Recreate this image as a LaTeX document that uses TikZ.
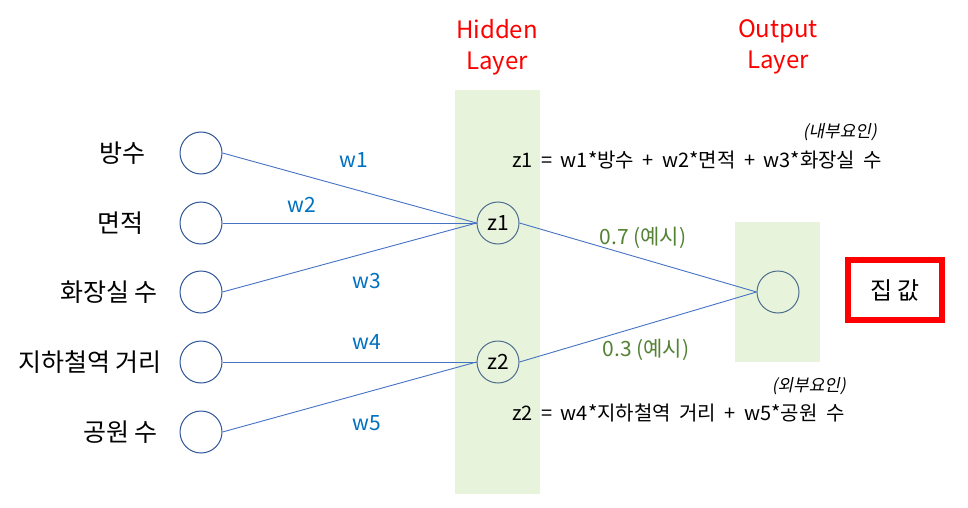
\documentclass[tikz,border=0pt]{standalone}
\usepackage{fontspec}
\setmainfont{Noto Sans CJK KR}
\newfontfamily\kslant[FakeSlant=0.2]{Noto Sans CJK KR}
\newcommand\widespacing{\spaceskip=8.5pt\relax}
\definecolor{band}{HTML}{E8F3DC}
\definecolor{edge}{HTML}{4472C4}
\definecolor{incirc}{HTML}{2F5597}
\definecolor{hidcirc}{HTML}{4E6E8E}
\definecolor{wblue}{HTML}{0070C0}
\definecolor{egreen}{HTML}{548235}
\definecolor{lred}{HTML}{FF0000}
\tikzset{
  inneuron/.style={circle,draw=incirc,line width=1pt,minimum size=42pt,inner sep=0pt,fill=white},
  hidneuron/.style={circle,draw=hidcirc,line width=1pt,minimum size=42pt,inner sep=0pt,font=\fontsize{21}{24}\selectfont},
  inlabel/.style={anchor=east,inner sep=0pt,font=\fontsize{25}{28}\selectfont},
  conn/.style={draw=edge,line width=0.9pt},
  wlabel/.style={inner sep=0pt,text=wblue,font=\fontsize{21}{24}\selectfont},
  exlabel/.style={inner sep=0pt,text=egreen,font=\fontsize{21}{24}\selectfont},
  layerlabel/.style={inner sep=0pt,text=lred,align=center,font=\fontsize{24}{31}\selectfont},
  formula/.style={inner sep=0pt,anchor=west,font=\fontsize{20}{22}\selectfont\widespacing},
  factor/.style={inner sep=0pt,anchor=east,font=\kslant\fontsize{17}{19}\selectfont},
}
\begin{document}
\begin{tikzpicture}[x=1pt,y=-1pt]
\useasboundingbox (0,0) rectangle (968,508);
% bands
\fill[band] (455,90) rectangle (540,494);
\fill[band] (735,222) rectangle (820,362);
% layer titles
\node[layerlabel] (hl) at (497,47) {Hidden\\Layer};
\node[layerlabel] (ol) at (778,47) {Output\\Layer};
% input neurons
\node[inneuron] (i1) at (201,153) {};
\node[inneuron] (i2) at (201,223) {};
\node[inneuron] (i3) at (201,292) {};
\node[inneuron] (i4) at (201,362) {};
\node[inneuron] (i5) at (201,432) {};
\node[inlabel] (l1) at (146,153) {방수};
\node[inlabel] (l2) at (144,223) {면적};
\node[inlabel] (l3) at (158,292) {화장실 수};
\node[inlabel] (l4) at (162,362) {지하철역 거리};
\node[inlabel] (l5) at (158,432) {공원 수};
% hidden and output
\node[hidneuron] (z1) at (498,223) {z1};
\node[hidneuron] (z2) at (498,362) {z2};
\node[hidneuron] (o) at (778,292) {};
% connectors
\draw[conn] (i1.east) -- (z1.west);
\draw[conn] (i2.east) -- (z1.west);
\draw[conn] (i3.east) -- (z1.west);
\draw[conn] (i4.east) -- (z2.west);
\draw[conn] (i5.east) -- (z2.west);
\draw[conn] (z1.east) -- (o.west);
\draw[conn] (z2.east) -- (o.west);
% weight labels
\node[wlabel] (w1) at (354,160) {w1};
\node[wlabel] (w2) at (302,205) {w2};
\node[wlabel] (w3) at (367,281) {w3};
\node[wlabel] (w4) at (367,342) {w4};
\node[wlabel] (w5) at (367,423) {w5};
\node[exlabel] (e1) at (643,238) {0.7 (예시)};
\node[exlabel] (e2) at (646,350) {0.3 (예시)};
% formulas
\node[factor] (f1) at (877,132) {(내부요인)};
\node[formula] (z1f) at (512,160) {z1 = w1*방수 + w2*면적 + w3*화장실 수};
\node[factor] (f2) at (846,386) {(외부요인)};
\node[formula] (z2f) at (512,413) {z2 = w4*지하철역 거리 + w5*공원 수};
% result
\node[draw=lred,line width=6pt,minimum width=94pt,minimum height=60pt,inner sep=0pt,font=\fontsize{24}{26}\selectfont] (res) at (895,290) {집 값};
\end{tikzpicture}
\end{document}
